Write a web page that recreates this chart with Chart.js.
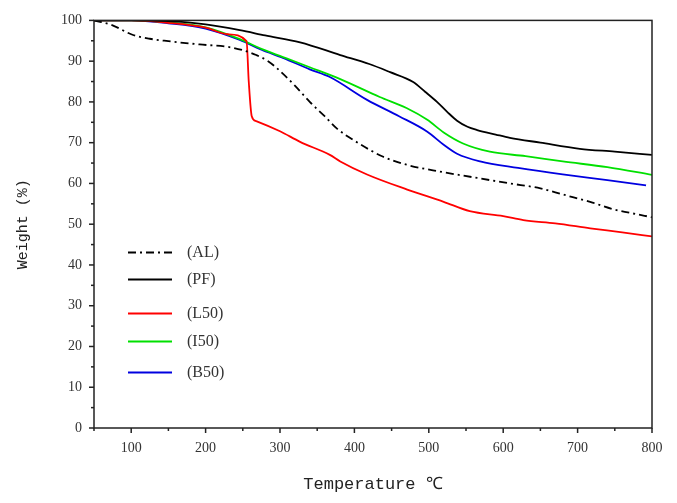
<!DOCTYPE html>
<html>
<head>
<meta charset="utf-8">
<script src="https://cdn.jsdelivr.net/npm/chart.js@4.4.1/dist/chart.umd.min.js"></script>
<style>
  html, body { margin: 0; padding: 0; background: #fff; }
  #wrap { width: 677px; height: 503px; }
</style>
</head>
<body>
<div id="wrap"><canvas id="tga"></canvas></div>
<script>
// TGA curves, temperature (℃) vs weight (%)
const alT = [50, 75, 100, 125, 150, 192, 230, 250, 268, 284, 300, 320, 340, 360, 377, 400, 438, 470, 515, 560, 609, 650, 680, 720, 747, 770, 800];
const alW = [100, 98.8, 96.6, 95.5, 94.9, 94.1, 93.5, 92.7, 91.5, 90, 87.6, 84, 80, 76.5, 73.4, 70.5, 66.6, 64.6, 62.9, 61.5, 60, 58.8, 57.3, 55.3, 53.7, 52.8, 51.7];

const pfT = [50, 100, 150, 200, 246, 280, 327, 381, 420, 448, 479, 495, 511, 525, 538, 552, 565, 590, 609, 650, 703, 750, 800];
const pfW = [100, 100, 99.8, 99, 97.6, 96.3, 94.6, 91.5, 89.3, 87.3, 84.9, 82.5, 80, 77.5, 75.4, 73.9, 73.1, 72, 71.2, 70, 68.5, 67.8, 67];

const l50T = [50, 100, 150, 200, 230, 255, 258, 262, 268, 300, 327, 367, 381, 417, 471, 520, 555, 600, 627, 670, 717, 760, 800];
const l50W = [100, 100, 99.4, 98.2, 96.6, 94.9, 85, 76.5, 75.3, 72.8, 70.2, 67, 65.4, 62.2, 58.5, 55.5, 53.2, 52, 51, 50.2, 49, 48, 47];

const i50T = [50, 100, 150, 200, 246, 275, 304, 340, 381, 434, 470, 498, 520, 546, 582, 630, 680, 740, 800];
const i50W = [100, 100, 99.5, 98.3, 95.4, 93, 91, 88.5, 85.6, 81.2, 78.5, 75.6, 72.5, 69.8, 67.8, 66.7, 65.4, 64, 62.1];

const b50T = [50, 100, 150, 200, 246, 275, 304, 340, 367, 417, 460, 498, 520, 538, 569, 620, 680, 740, 792];
const b50W = [100, 100, 99.3, 98, 95.2, 92.8, 90.8, 88, 86.1, 80.5, 76.5, 72.7, 69.5, 67.3, 65.4, 63.8, 62.2, 60.8, 59.5];

const seriesNames = ['(AL)', '(PF)', '(L50)', '(I50)', '(B50)'];
const seriesColors = ['#000000', '#000000', '#ff0000', '#00e000', '#0000e0'];

function toPoints(xs, ys) {
    return xs.map((x, i) => ({ x: x, y: ys[i] }));
}

const serif = '"Liberation Serif", "Times New Roman", serif';
const mono = '"Liberation Mono", "Courier New", monospace';

function makeSet(i, xs, ys, dash) {
    return {
        label: seriesNames[i],
        data: toPoints(xs, ys),
        borderColor: seriesColors[i],
        backgroundColor: seriesColors[i],
        borderWidth: 1.8,
        borderDash: dash || [],
        pointRadius: 0,
        showLine: true,
        cubicInterpolationMode: 'monotone',
        fill: false
    };
}

// frame box, ticks (major + minor) and the legend inside the plot
const framePlugin = {
    id: 'frame',
    afterDraw(chart) {
        const ctx = chart.ctx;
        const a = chart.chartArea;
        const xs = chart.scales.x, ys = chart.scales.y;
        ctx.save();
        ctx.strokeStyle = '#222';
        ctx.lineWidth = 1.5;
        ctx.strokeRect(a.left, a.top, a.right - a.left, a.bottom - a.top);

        for (let v = 50; v <= 800; v += 50) {
            const px = xs.getPixelForValue(v);
            const len = v % 100 === 0 ? 5 : 3;
            ctx.beginPath();
            ctx.moveTo(px, a.bottom);
            ctx.lineTo(px, a.bottom + len);
            ctx.stroke();
        }
        for (let v = 0; v <= 100; v += 5) {
            const py = ys.getPixelForValue(v);
            const len = v % 10 === 0 ? 5 : 3;
            ctx.beginPath();
            ctx.moveTo(a.left, py);
            ctx.lineTo(a.left - len, py);
            ctx.stroke();
        }

        // legend
        const rows = [232, 259, 293, 321, 352];
        const dashes = [[8, 4, 2, 4], [], [], [], []];
        ctx.font = '16px ' + serif;
        ctx.textBaseline = 'middle';
        ctx.textAlign = 'left';
        seriesNames.forEach((name, i) => {
            const y = a.top + rows[i];
            ctx.strokeStyle = seriesColors[i];
            ctx.lineWidth = 2;
            ctx.setLineDash(dashes[i]);
            ctx.beginPath();
            ctx.moveTo(a.left + 34, y);
            ctx.lineTo(a.left + 78, y);
            ctx.stroke();
            ctx.setLineDash([]);
            ctx.fillStyle = '#333';
            ctx.fillText(name, a.left + 93, y);
        });
        ctx.restore();
    }
};

new Chart(document.getElementById('tga'), {
    type: 'scatter',
    data: {
        datasets: [
            makeSet(0, alT, alW, [8, 4, 2, 4]),
            makeSet(1, pfT, pfW),
            makeSet(2, l50T, l50W),
            makeSet(3, i50T, i50W),
            makeSet(4, b50T, b50W)
        ]
    },
    options: {
        responsive: true,
        maintainAspectRatio: false,
        animation: false,
        layout: { padding: { left: 0, right: 25, top: 18, bottom: 0 } },
        plugins: {
            legend: { display: false },
            tooltip: { enabled: false }
        },
        scales: {
            x: {
                type: 'linear',
                min: 50,
                max: 800,
                afterFit: (s) => { s.height = 75; },
                grid: { drawOnChartArea: false, drawTicks: false },
                border: { display: false },
                ticks: {
                    stepSize: 50,
                    padding: 12,
                    color: '#333',
                    font: { family: serif, size: 14 },
                    maxRotation: 0,
                    autoSkip: false,
                    callback: (v) => (v % 100 === 0 ? String(v) : '')
                },
                title: {
                    display: true,
                    text: 'Temperature ℃',
                    color: '#222',
                    font: { family: mono, size: 17 },
                    padding: { top: 0, bottom: 8 }
                }
            },
            y: {
                min: 0,
                max: 100,
                afterFit: (s) => { s.width = 94; },
                grid: { drawOnChartArea: false, drawTicks: false },
                border: { display: false },
                ticks: {
                    stepSize: 5,
                    padding: 12,
                    color: '#333',
                    font: { family: serif, size: 14 },
                    autoSkip: false,
                    callback: (v) => (v % 10 === 0 ? String(v) : '')
                },
                title: {
                    display: true,
                    text: 'Weight (%)',
                    color: '#222',
                    font: { family: mono, size: 15 },
                    padding: { top: 14, bottom: 0 }
                }
            }
        }
    },
    plugins: [framePlugin]
});
</script>
</body>
</html>
